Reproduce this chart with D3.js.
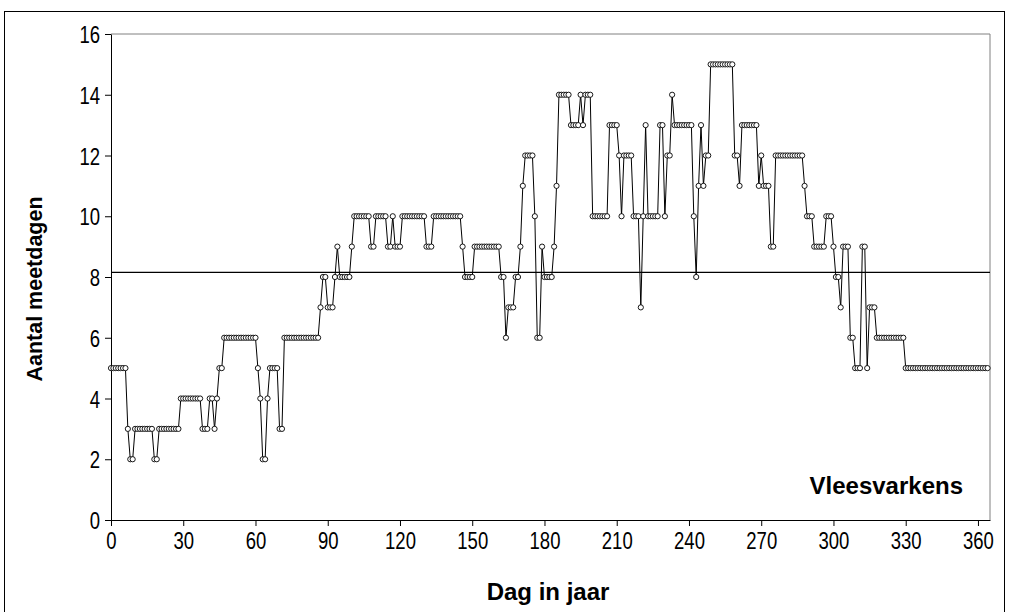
<!DOCTYPE html>
<html><head><meta charset="utf-8">
<script src="https://cdn.jsdelivr.net/npm/d3@7"></script>
<style>body{margin:0;background:#fff;}svg{display:block;font-family:"Liberation Sans",Arial,sans-serif;}</style>
</head><body>
<svg id="c" width="1009" height="612"></svg>
<script>
const days = d3.range(0, 365);
const values = [
5,5,5,5,5,5,5,3,2,2,
3,3,3,3,3,3,3,3,2,2,
3,3,3,3,3,3,3,3,3,4,
4,4,4,4,4,4,4,4,3,3,
3,4,4,3,4,5,5,6,6,6,
6,6,6,6,6,6,6,6,6,6,
6,5,4,2,2,4,5,5,5,5,
3,3,6,6,6,6,6,6,6,6,
6,6,6,6,6,6,6,7,8,8,
7,7,7,8,9,8,8,8,8,8,
9,10,10,10,10,10,10,10,9,9,
10,10,10,10,10,9,9,10,9,9,
9,10,10,10,10,10,10,10,10,10,
10,9,9,9,10,10,10,10,10,10,
10,10,10,10,10,10,9,8,8,8,
8,9,9,9,9,9,9,9,9,9,
9,9,8,8,6,7,7,7,8,8,
9,11,12,12,12,12,10,6,6,9,
8,8,8,8,9,11,14,14,14,14,
14,13,13,13,13,14,13,14,14,14,
10,10,10,10,10,10,10,13,13,13,
13,12,10,12,12,12,12,10,10,10,
7,10,13,10,10,10,10,10,13,13,
10,12,12,14,13,13,13,13,13,13,
13,13,10,8,11,13,11,12,12,15,
15,15,15,15,15,15,15,15,15,12,
12,11,13,13,13,13,13,13,13,11,
12,11,11,11,9,9,12,12,12,12,
12,12,12,12,12,12,12,12,11,10,
10,10,9,9,9,9,9,10,10,10,
9,8,8,7,9,9,9,6,6,5,
5,5,9,9,5,7,7,7,6,6,
6,6,6,6,6,6,6,6,6,6,
5,5,5,5,5,5,5,5,5,5,
5,5,5,5,5,5,5,5,5,5,
5,5,5,5,5,5,5,5,5,5,
5,5,5,5,5
];
const meanValue = 8.15;
const xTicks = [0,30,60,90,120,150,180,210,240,270,300,330,360];
const yTicks = [0,2,4,6,8,10,12,14,16];
const xTitle = "Dag in jaar";
const yTitle = "Aantal meetdagen";
const label = "Vleesvarkens";
</script>
<script>
const svg = d3.select("#c");
const L = 111, R = 990, T = 34, B = 520;
const x = d3.scaleLinear().domain([0, 365]).range([L, R]);
const y = d3.scaleLinear().domain([0, 16]).range([B, T]);
const FONT = "Liberation Sans, Arial, sans-serif";

// outer frame
svg.append("rect").attr("x", 4.5).attr("y", 11.5).attr("width", 1000).attr("height", 620)
  .attr("fill", "none").attr("stroke", "#000").attr("stroke-width", 1);

// plot area top/right border (gray)
svg.append("path").attr("d", `M${L},${T}H${R}V${B}`).attr("fill", "none")
  .attr("stroke", "#808080").attr("stroke-width", 1);

// axes
const gx = svg.append("g").attr("transform", `translate(0,${B})`)
  .call(d3.axisBottom(x).tickValues(xTicks).tickSize(6).tickSizeOuter(0));
const gy = svg.append("g").attr("transform", `translate(${L},0)`)
  .call(d3.axisLeft(y).tickValues(yTicks).tickSize(6).tickSizeOuter(0));
[gx, gy].forEach(g => {
  g.select(".domain").attr("stroke", "#000").attr("stroke-width", 1);
  g.selectAll(".tick line").attr("stroke", "#000");
  g.selectAll(".tick text").remove();
});
// tick labels (slightly tall lettering, as in the reference)
gx.selectAll(".tick").append("text")
  .attr("transform", "translate(0,28.5) scale(1.03,1.3)")
  .attr("text-anchor", "middle").attr("font-size", 18).attr("font-family", FONT)
  .attr("fill", "#000").text(d => d);
gy.selectAll(".tick").append("text")
  .attr("transform", "translate(-11,8.5) scale(1.03,1.3)")
  .attr("text-anchor", "end").attr("font-size", 18).attr("font-family", FONT)
  .attr("fill", "#000").text(d => d);

// mean line
svg.append("line").attr("x1", L).attr("x2", R).attr("y1", y(meanValue)).attr("y2", y(meanValue))
  .attr("stroke", "#000").attr("stroke-width", 1.3);

// series
const data = days.map((d, i) => ({d, v: values[i]})).filter(p => p.v !== undefined);
svg.append("path").datum(data)
  .attr("d", d3.line().x(p => x(p.d)).y(p => y(p.v)))
  .attr("fill", "none").attr("stroke", "#000").attr("stroke-width", 1);
svg.append("g").selectAll("circle").data(data).join("circle")
  .attr("cx", p => x(p.d)).attr("cy", p => y(p.v)).attr("r", 2.6)
  .attr("fill", "#fff").attr("stroke", "#000").attr("stroke-width", 0.9);

// titles
svg.append("text").attr("x", 548).attr("y", 600).attr("text-anchor", "middle")
  .attr("font-size", 24).attr("font-weight", "bold").attr("font-family", FONT).text(xTitle);
svg.append("text").attr("transform", `translate(42,289) rotate(-90)`)
  .attr("text-anchor", "middle").attr("font-size", 21.5).attr("font-weight", "bold")
  .attr("font-family", FONT).text(yTitle);
svg.append("text").attr("x", 963).attr("y", 494).attr("text-anchor", "end")
  .attr("font-size", 24).attr("font-weight", "bold").attr("font-family", FONT).text(label);
</script>
</body></html>
